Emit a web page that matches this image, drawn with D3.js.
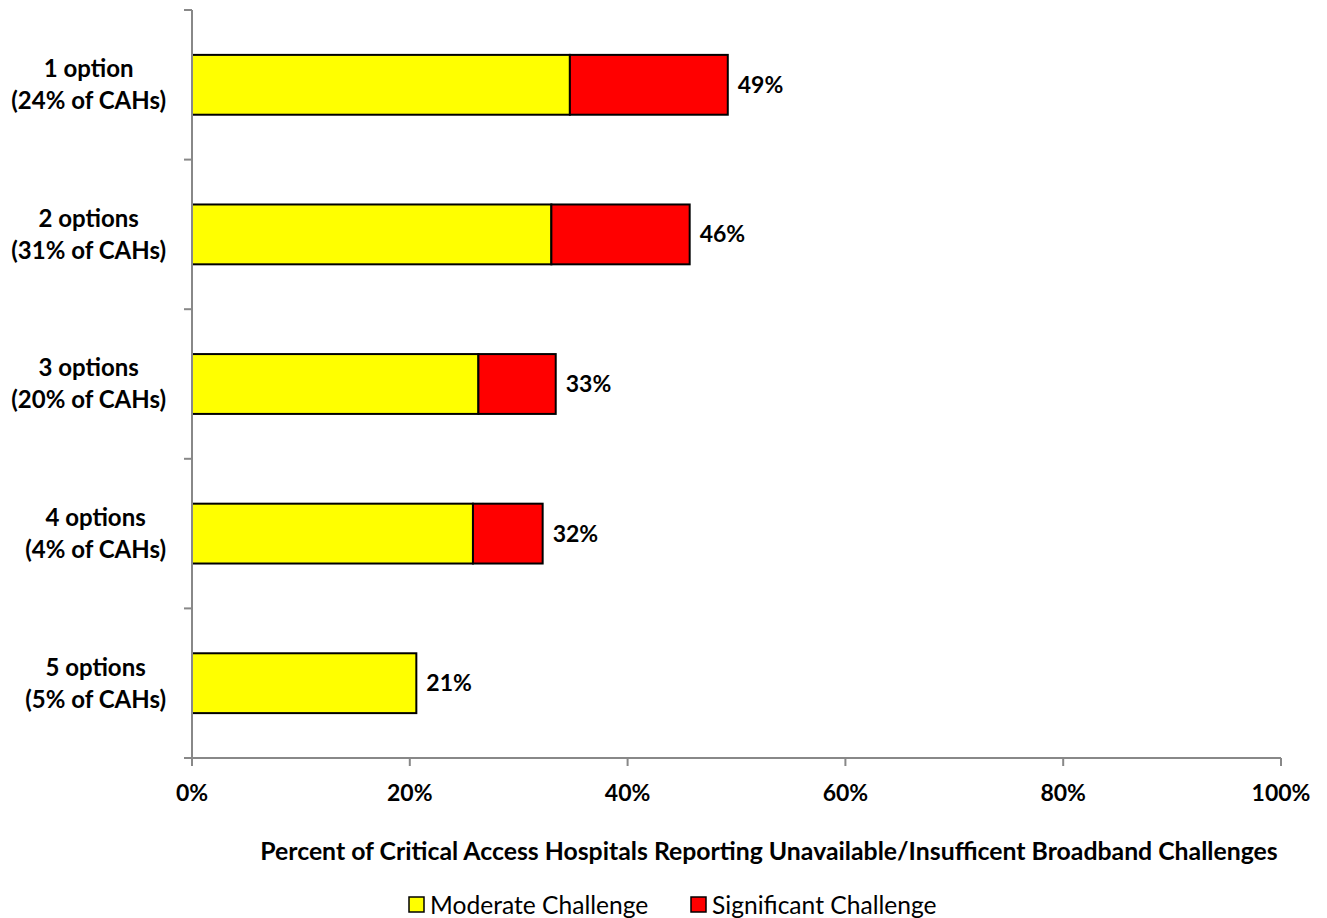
<!DOCTYPE html>
<html><head><meta charset="utf-8">
<script src="https://cdn.jsdelivr.net/npm/d3@7"></script>
<style>body{margin:0;background:#fff}svg{display:block}text{font-family:Lato,"Open Sans",sans-serif}</style>
</head><body>
<svg id="c" width="1327" height="918"></svg>
<script>
const categories = [["1 option","(24% of CAHs)"],["2 options","(31% of CAHs)"],["3 options","(20% of CAHs)"],["4 options","(4% of CAHs)"],["5 options","(5% of CAHs)"]];
const moderate = [34.7, 33.0, 26.3, 25.8, 20.6];
const significant = [14.5, 12.7, 7.1, 6.4, 0];
const totalLabels = ["49%","46%","33%","32%","21%"];
const xTicks = [0,20,40,60,80,100];
const seriesNames = ["Moderate Challenge","Significant Challenge"];
const colors = ["#FFFF00","#FF0000"];

const svg = d3.select("#c");
const x = d3.scaleLinear().domain([0,100]).range([192,1281]);
const y = d3.scaleBand().domain(d3.range(categories.length)).range([10,758]).paddingInner(0.6).paddingOuter(0.3);

const g = svg.append("g");
categories.forEach((c,i)=>{
  const y0 = y(i), h = y.bandwidth();
  g.append("rect").attr("x",x(0)).attr("y",y0).attr("width",x(moderate[i])-x(0)).attr("height",h)
    .attr("fill",colors[0]).attr("stroke","#000").attr("stroke-width",2);
  if (significant[i]>0) g.append("rect").attr("x",x(moderate[i])).attr("y",y0).attr("width",x(moderate[i]+significant[i])-x(moderate[i])).attr("height",h)
    .attr("fill",colors[1]).attr("stroke","#000").attr("stroke-width",2);
  g.append("text").attr("x",x(moderate[i]+significant[i])+10).attr("y",y0+h/2).attr("dy","0.35em")
    .attr("font-size",23).attr("font-weight","bold").text(totalLabels[i]);
  const cy = y0+h/2;
  const t1 = g.append("text").attr("y",cy-16).attr("dy","0.35em").attr("text-anchor","middle")
    .attr("font-size",24).attr("font-weight","bold").text(c[0]);
  const t2 = g.append("text").attr("y",cy+16).attr("dy","0.35em").attr("text-anchor","middle")
    .attr("font-size",24).attr("font-weight","bold").text(c[1]);
  const w = Math.max(t1.node().getComputedTextLength(), t2.node().getComputedTextLength());
  t1.attr("x",166-w/2); t2.attr("x",166-w/2);
});

const axCol = "#888";
const step = (758-10)/categories.length;
const yTickPos = d3.range(categories.length+1).map(k=>10+k*step);
svg.append("line").attr("x1",192).attr("x2",192).attr("y1",10).attr("y2",758).attr("stroke",axCol).attr("stroke-width",2);
yTickPos.forEach(p=>svg.append("line").attr("x1",184).attr("x2",192).attr("y1",p).attr("y2",p).attr("stroke",axCol).attr("stroke-width",2));
svg.append("line").attr("x1",184).attr("x2",x(100)).attr("y1",758).attr("y2",758).attr("stroke",axCol).attr("stroke-width",2);
xTicks.forEach(t=>{
  svg.append("line").attr("x1",x(t)).attr("x2",x(t)).attr("y1",758).attr("y2",766).attr("stroke",axCol).attr("stroke-width",2);
  svg.append("text").attr("x",x(t)).attr("y",793).attr("dy","0.35em").attr("text-anchor","middle")
    .attr("font-size",23).attr("font-weight","bold").text(t+"%");
});
svg.append("text").attr("x",769).attr("y",851).attr("dy","0.35em").attr("text-anchor","middle")
  .attr("font-size",24.8).attr("font-weight","bold").text("Percent of Critical Access Hospitals Reporting Unavailable/Insufficent Broadband Challenges");

const legX = [408,690];
seriesNames.forEach((n,i)=>{
  svg.append("rect").attr("x",legX[i]+1).attr("y",897).attr("width",15).attr("height",15).attr("fill",colors[i]).attr("stroke","#000").attr("stroke-width",1.5);
  svg.append("text").attr("x",legX[i]+22).attr("y",905).attr("dy","0.35em").attr("font-size",24.6).text(n);
});
</script>
</body></html>
